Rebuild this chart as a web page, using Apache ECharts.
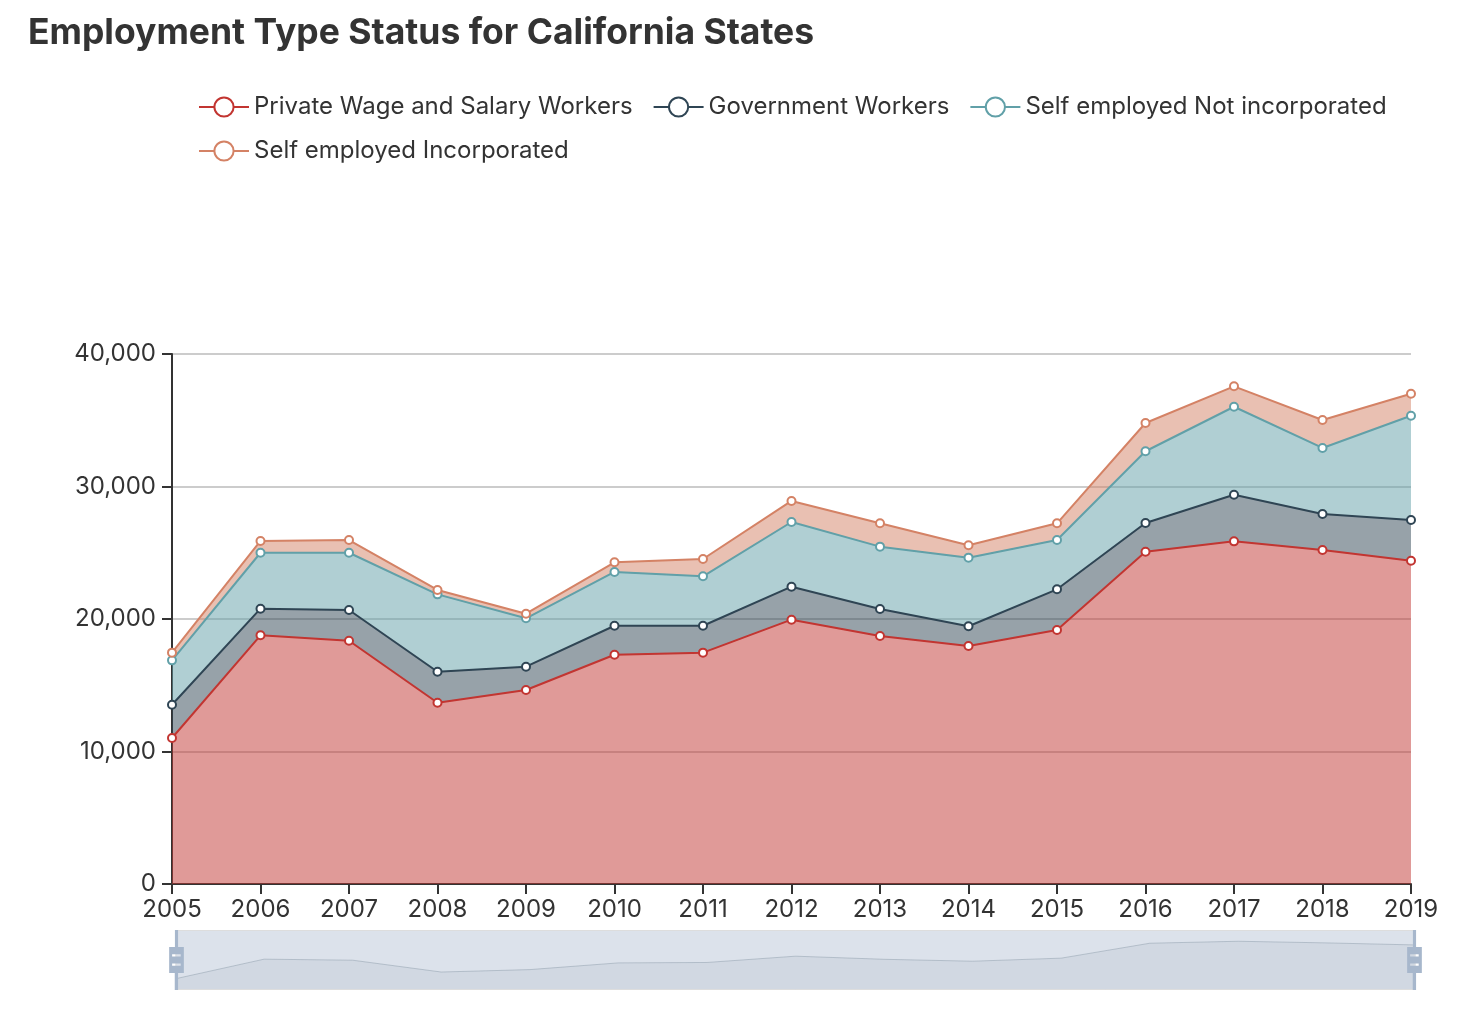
<!DOCTYPE html>
<html>
<head>
<meta charset="utf-8">
<script src="https://cdn.jsdelivr.net/npm/echarts@6/dist/echarts.min.js"></script>
<style>
html,body{margin:0;padding:0;background:#fff;}
#chart{width:1468px;height:1012px;}
</style>
</head>
<body>
<div id="chart"></div>
<script>
var years = ['2005','2006','2007','2008','2009','2010','2011','2012','2013','2014','2015','2016','2017','2018','2019'];
var privateWage = [11020, 18770, 18360, 13680, 14640, 17300, 17460, 19950, 18720, 17960, 19170, 25080, 25860, 25210, 24400];
var government  = [2510, 2010, 2320, 2340, 1760, 2190, 2030, 2490, 2030, 1490, 3070, 2170, 3520, 2710, 3070];
var selfNotInc  = [3350, 4220, 4320, 5840, 3650, 4060, 3730, 4880, 4710, 5180, 3720, 5410, 6640, 4990, 7870];
var selfInc     = [580, 890, 960, 330, 350, 730, 1310, 1590, 1760, 930, 1260, 2130, 1540, 2110, 1660];
var seriesNames = ['Private Wage and Salary Workers','Government Workers','Self employed Not incorporated','Self employed Incorporated'];
var colors = ['#c23531','#2f4554','#61a0a8','#d48265'];

var font = 'Inter, "Liberation Sans", Arial, sans-serif';
var chart = echarts.init(document.getElementById('chart'));
function mk(name, data, i){
  return {
    name: name, type: 'line', stack: 'total', data: data,
    symbol: 'emptyCircle', symbolSize: 8, showSymbol: true,
    itemStyle: {color: colors[i], borderWidth: 2},
    lineStyle: {color: colors[i], width: 2},
    areaStyle: {color: colors[i], opacity: 0.5},
    emphasis: {disabled: true}
  };
}
chart.setOption({
  animation: false,
  color: colors,
  textStyle: {fontFamily: font},
  title: {
    text: 'Employment Type Status for California States',
    left: 28, top: 15, padding: 0,
    textStyle: {fontSize: 35.5, fontWeight: 'bold', color: '#333', fontFamily: font}
  },
  legend: {
    left: 198, top: 95, width: 1240, padding: 0,
    itemWidth: 50, itemHeight: 24, itemGap: 20,
    textStyle: {fontSize: 24, color: '#333', fontFamily: font},
    data: seriesNames
  },
  grid: {left: 172, right: 57, top: 354, bottom: 128, containLabel: false},
  xAxis: {
    type: 'category', data: years, boundaryGap: false,
    axisLine: {lineStyle: {color: '#333', width: 2}},
    axisTick: {show: true, length: 10, lineStyle: {color: '#333', width: 2}},
    axisLabel: {fontSize: 24, color: '#333', margin: 14, fontFamily: font}
  },
  yAxis: {
    type: 'value', min: 0, max: 40000, interval: 10000,
    axisLine: {show: true, lineStyle: {color: '#333', width: 2}},
    axisTick: {show: true, length: 10, lineStyle: {color: '#333', width: 2}},
    axisLabel: {fontSize: 24, color: '#333', margin: 16, fontFamily: font,
      formatter: function(v){ return v.toLocaleString('en-US'); }},
    splitLine: {lineStyle: {color: '#ccc', width: 2}}
  },
  dataZoom: [{
    type: 'slider', xAxisIndex: 0, start: 0, end: 100,
    left: 173, right: 55, bottom: 22, height: 60,
    showDetail: false, moveHandleSize: 0, brushSelect: false,
    backgroundColor: 'rgba(47,69,84,0)',
    borderColor: '#ddd',
    fillerColor: 'rgba(167,183,204,0.4)',
    handleIcon: 'M8.2,13.6V3.9H6.3v9.7H3.1v14.9h3.3v9.7h1.8v-9.7h3.3V13.6H8.2z M9.7,24.4H4.8v-1.4h4.9V24.4z M9.7,19.1H4.8v-1.4h4.9V19.1z',
    handleSize: '100%',
    handleStyle: {color: '#a7b7cc', borderColor: '#a7b7cc', borderWidth: 0},
    dataBackground: {lineStyle: {color: '#2f4554', width: 1, opacity: 0.3}, areaStyle: {color: 'rgba(47,69,84,0.3)', opacity: 0.3}},
    selectedDataBackground: {lineStyle: {color: '#2f4554', width: 1, opacity: 0.3}, areaStyle: {color: 'rgba(47,69,84,0.3)', opacity: 0.3}},
    emphasis: {handleStyle: {color: '#a7b7cc'}}
  }],
  series: [
    mk(seriesNames[0], privateWage, 0),
    mk(seriesNames[1], government, 1),
    mk(seriesNames[2], selfNotInc, 2),
    mk(seriesNames[3], selfInc, 3)
  ]
});
</script>
</body>
</html>
